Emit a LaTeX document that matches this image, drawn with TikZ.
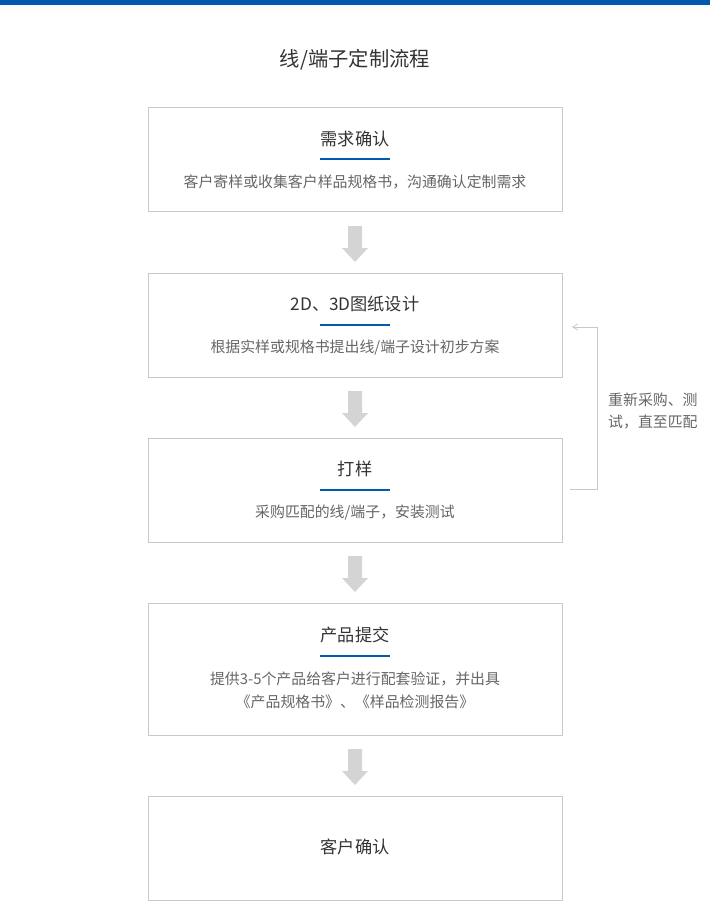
\documentclass[tikz,border=0pt]{standalone}
\usepackage{fontspec}
\setmainfont{Noto Sans CJK SC}
\usetikzlibrary{arrows.meta}
\definecolor{bar}{HTML}{005BAC}
\definecolor{frame}{HTML}{C8C8C8}
\definecolor{txt}{HTML}{333333}
\definecolor{sub}{HTML}{666666}
\definecolor{garr}{HTML}{D4D4D4}
\begin{document}
\begin{tikzpicture}[x=1pt,y=-1pt,
  boxst/.style={draw=frame,line width=0.8pt,fill=white},
  ttl/.style={font=\fontsize{17.2}{19}\selectfont,text=txt,inner sep=0},
  dsc/.style={font=\fontsize{14.9}{23}\selectfont,text=sub,inner sep=0,align=center},
  uline/.style={draw=bar,line width=1.2pt},
  blockarr/.style={fill=garr,draw=none}]
\useasboundingbox (0,0) rectangle (710,920);
\fill[bar] (0,0) rectangle (710,5);
\node[font=\fontsize{20.3}{22}\selectfont,text=txt,inner sep=0] (title) at (355,60) {线/端子定制流程};
% boxes
\draw[boxst] (148,107) rectangle (562,211);
\node[ttl] (t1) at (355,139) {需求确认};
\draw[uline] (320,159) -- (390,159);
\node[dsc] (d1) at (355,182) {客户寄样或收集客户样品规格书，沟通确认定制需求};

\draw[boxst] (148,273) rectangle (562,377);
\node[ttl] (t2) at (355,304) {2D、3D图纸设计};
\draw[uline] (320,325) -- (390,325);
\node[dsc] (d2) at (355,348) {根据实样或规格书提出线/端子设计初步方案};

\draw[boxst] (148,438) rectangle (562,542);
\node[ttl] (t3) at (355,469) {打样};
\draw[uline] (320,490) -- (390,490);
\node[dsc] (d3) at (355,513) {采购匹配的线/端子，安装测试};

\draw[boxst] (148,603) rectangle (562,735);
\node[ttl] (t4) at (355,635) {产品提交};
\draw[uline] (320,656) -- (390,656);
\node[dsc] (d4) at (355,690) {提供3-5个产品给客户进行配套验证，并出具\\《产品规格书》、《样品检测报告》};

\draw[boxst] (148,796) rectangle (562,900);
\node[ttl] (t5) at (355,847) {客户确认};

% block arrows
\foreach \y in {226,391,556,749}{
  \fill[blockarr] (348,\y) -- (362,\y) -- (362,\y+22) -- (368,\y+22) -- (355,\y+36) -- (342,\y+22) -- (348,\y+22) -- cycle;
}
% feedback
\coordinate (fa) at (570,489);
\coordinate (fb) at (597,489);
\coordinate (fc) at (597,327);
\coordinate (fd) at (572,327);
\draw[frame,line width=0.8pt,-{Straight Barb[length=5pt,width=6pt]}] (fa) -- (fb) -- (fc) -- (fd);
\node[dsc,align=left,anchor=west,font=\fontsize{14.9}{22}\selectfont] (fl) at (608,411) {重新采购、测\\试，直至匹配};
\end{tikzpicture}
\end{document}
